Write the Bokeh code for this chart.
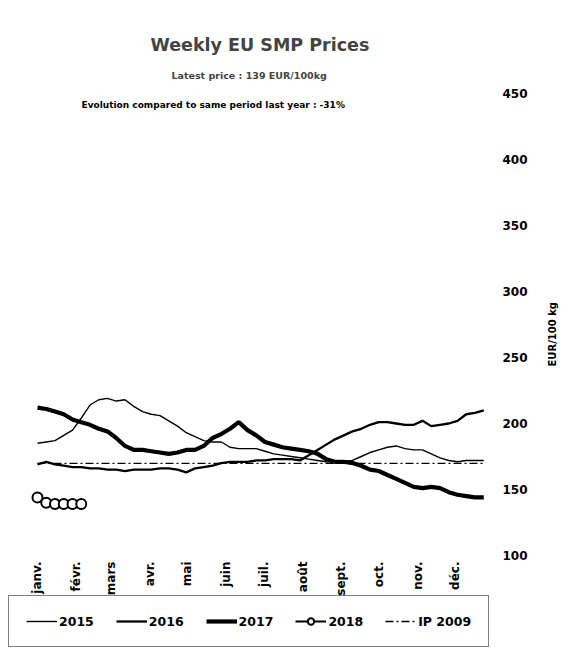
import math
from bokeh.plotting import figure
from bokeh.models import (Legend, LegendItem, FixedTicker, Title, Label, LabelSet,
                          ColumnDataSource, Range1d)
from bokeh.core.properties import value
from bokeh.embed import file_html
from bokeh.resources import INLINE

# ---------------- data ----------------
weeks = list(range(1, 53))
p2015 = [185, 186, 187, 191, 195, 204, 214, 218, 219, 217, 218, 213, 209, 207, 206,
         202, 198, 193, 190, 187, 186, 186, 182, 181, 181, 181, 179, 177, 176, 175,
         174, 173, 172, 171, 171, 171, 172, 175, 178, 180, 182, 183, 181, 180, 180,
         177, 174, 172, 171, 172, 172, 172]
p2016 = [169, 171, 169, 168, 167, 167, 166, 166, 165, 165, 164, 165, 165, 165, 166,
         166, 165, 163, 166, 167, 168, 170, 171, 171, 171, 172, 172, 173, 173, 173,
         172, 176, 180, 184, 188, 191, 194, 196, 199, 201, 201, 200, 199, 199, 202,
         198, 199, 200, 202, 207, 208, 210]
p2017 = [212, 211, 209, 207, 203, 201, 199, 196, 194, 189, 183, 180, 180, 179, 178,
         177, 178, 180, 180, 183, 189, 192, 196, 201, 195, 191, 186, 184, 182, 181,
         180, 179, 177, 173, 171, 171, 170, 168, 165, 164, 161, 158, 155, 152, 151,
         152, 151, 148, 146, 145, 144, 144]
weeks_2018 = [1, 2, 3, 4, 5, 6]
p2018 = [144, 140, 139, 139, 139, 139]
ip2009 = 169.8

month_labels = ["janv.", "févr.", "mars", "avr.", "mai", "juin", "juil.", "août",
                "sept.", "oct.", "nov.", "déc."]
month_days = [31, 28, 31, 30, 31, 30, 31, 31, 30, 31, 30, 31]
y_ticks = [100, 150, 200, 250, 300, 350, 400, 450]

title_text = "Weekly EU SMP Prices"
subtitle_text = "Latest price : 139 EUR/100kg"
evolution_text = "Evolution compared to same period last year : -31%"
y_label = "EUR/100 kg"

FONT = "DejaVu Sans"

# month tick positions (in weeks)
month_pos = []
cum = 0
for d in month_days:
    month_pos.append(round(1 + cum / 7.0, 2))
    cum += d

# ---------------- figure ----------------
# the plot area also holds the month labels and the legend strip
p = figure(frame_width=482, frame_height=564,
           x_range=Range1d(-2.314, 52.771), y_range=Range1d(29.55, 456.8),
           y_axis_location="right", x_axis_location=None, title=None,
           output_backend="svg", toolbar_location=None,
           min_border_left=8, min_border_right=0, min_border_top=84,
           min_border_bottom=0, background_fill_color="white",
           border_fill_color="white")
p.outline_line_color = None
p.xgrid.visible = False
p.ygrid.visible = False

p.add_layout(Title(text=subtitle_text, align="left", text_font=FONT,
                   text_font_size="9.5px", text_font_style="bold",
                   offset=163, standoff=8), "above")
p.add_layout(Title(text=title_text, align="left", text_font=FONT,
                   text_font_size="17.5px", text_font_style="bold",
                   offset=142, standoff=17), "above")

# series
r15 = p.line(weeks, p2015, line_color="black", line_width=1.4)
r16 = p.line(weeks, p2016, line_color="black", line_width=2.3)
r17 = p.line(weeks, p2017, line_color="black", line_width=4.2)
r18l = p.line(weeks_2018, p2018, line_color="black", line_width=2)
r18m = p.scatter(weeks_2018, p2018, marker="circle", size=10,
                 fill_color="white", line_color="black", line_width=2)
rip = p.line([weeks[0], weeks[-1]], [ip2009, ip2009], line_color="black",
             line_width=1.4, line_dash="8 3 2 3")

p.add_layout(Label(x=73, y=544, x_units="screen", y_units="screen",
                   text=evolution_text, text_font=FONT, text_font_size="9px",
                   text_font_style="bold", text_baseline="middle",
                   text_color="black"))

# month labels (vertical, below the 100 level)
month_src = ColumnDataSource(data=dict(x=month_pos, text=month_labels))
p.add_layout(LabelSet(x="x", y=87, y_units="screen", text="text",
                      source=month_src, angle=math.pi / 2,
                      text_align="right", text_baseline="middle",
                      text_font=value(FONT), text_font_size="12px",
                      text_font_style="bold", text_color="black"))

# y axis (right)
ya = p.yaxis[0]
ya.ticker = FixedTicker(ticks=y_ticks)
ya.axis_line_color = None
ya.major_tick_line_color = None
ya.minor_tick_line_color = None
ya.major_label_standoff = 6
ya.major_label_text_font = FONT
ya.major_label_text_font_size = "12px"
ya.major_label_text_font_style = "bold"
ya.major_label_text_color = "black"
ya.axis_label = y_label
ya.axis_label_text_font = FONT
ya.axis_label_text_font_size = "10px"
ya.axis_label_text_font_style = "bold"
ya.axis_label_text_color = "black"
ya.axis_label_standoff = 22
try:
    ya.axis_label_orientation = math.pi / 2
except Exception:
    pass

# legend at the bottom of the plot area
legend = Legend(items=[
    LegendItem(label="2015", renderers=[r15]),
    LegendItem(label="2016", renderers=[r16]),
    LegendItem(label="2017", renderers=[r17]),
    LegendItem(label="2018", renderers=[r18l, r18m]),
    LegendItem(label="IP 2009", renderers=[rip]),
], orientation="horizontal", location=(0, 1), margin=0,
    border_line_color="black", border_line_width=1.5,
    padding=17, spacing=22, glyph_width=31, glyph_height=16,
    label_height=16, label_standoff=2,
    label_text_font=FONT, label_text_font_size="12.5px",
    label_text_font_style="bold", label_text_color="black",
    background_fill_color="white", background_fill_alpha=1)
p.add_layout(legend)

open("out.html", "w").write(file_html(p, INLINE))
